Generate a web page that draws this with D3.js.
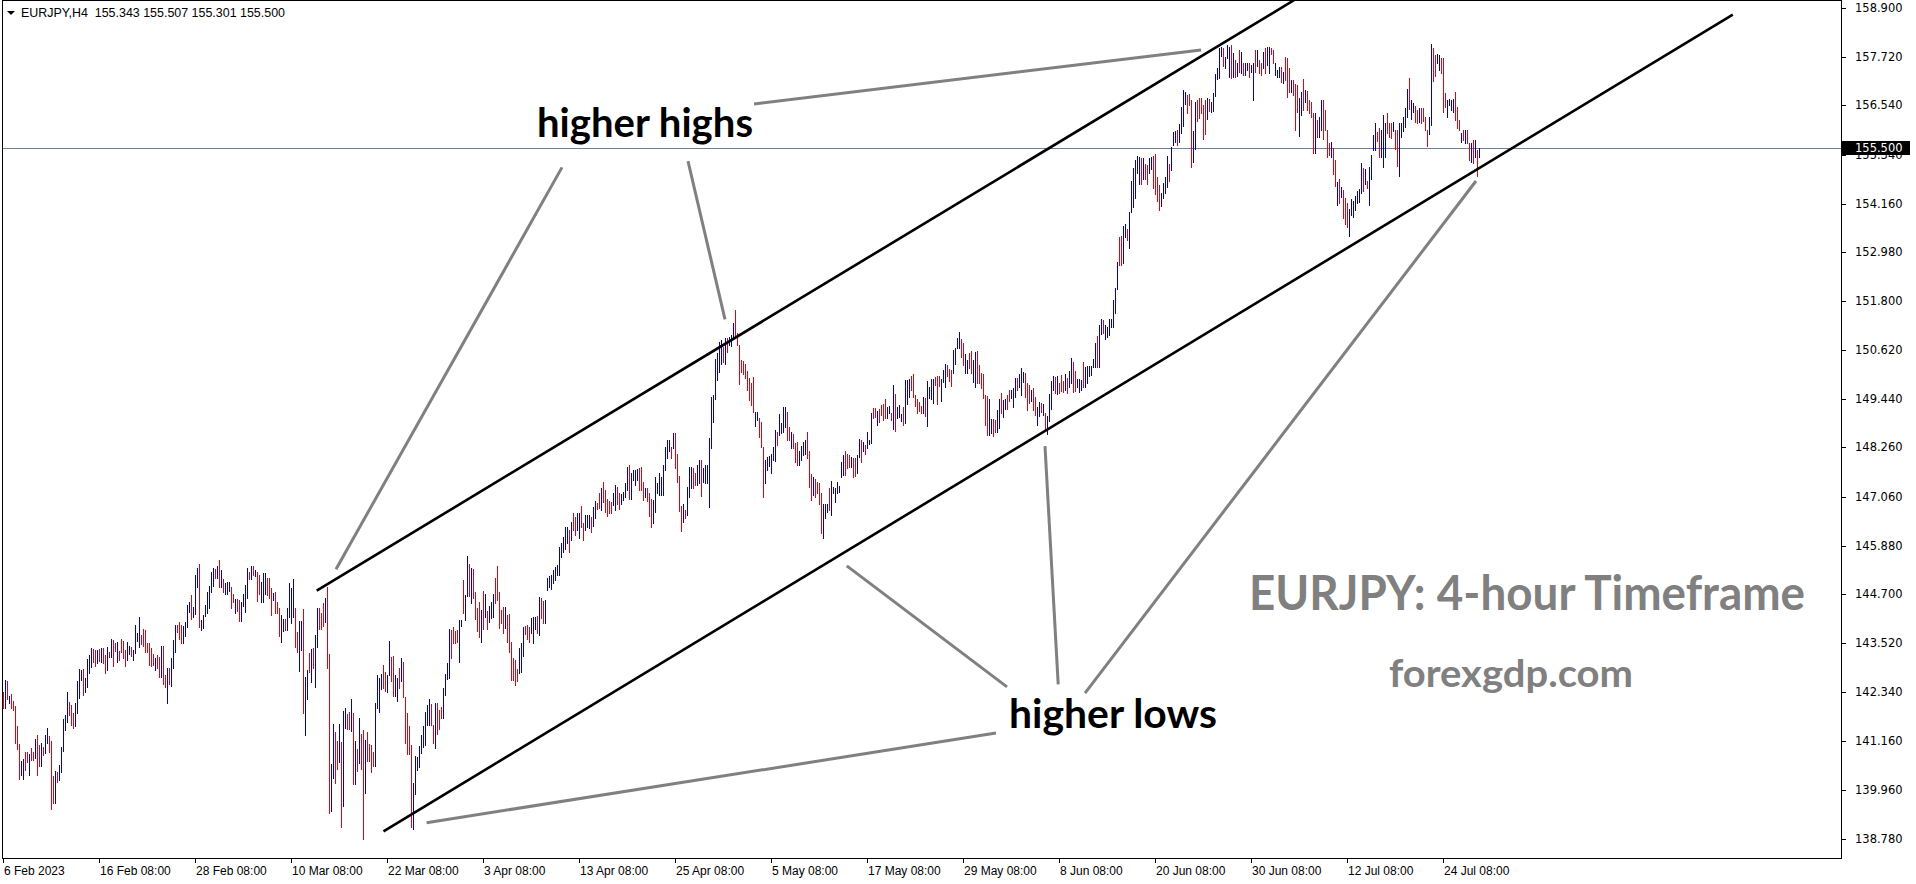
<!DOCTYPE html>
<html><head><meta charset="utf-8">
<script src="https://cdn.jsdelivr.net/npm/d3@7"></script>
<style>
html,body{margin:0;padding:0;background:#fff;overflow:hidden}
svg{display:block}
</style></head>
<body>
<svg id="chart" width="1916" height="884"></svg>
<script>
// ---------- DATA (EURJPY H4, one entry per bar) ----------
const barHigh = [
142.34,142.63,142.59,142.24,142.29,142.12,142.00,141.50,141.08,140.67,
140.71,140.89,140.89,140.83,140.97,140.87,141.20,141.29,141.04,141.09,
141.01,141.29,141.47,141.28,141.16,140.31,140.41,140.39,140.57,141.01,
141.68,141.79,142.34,142.10,142.02,141.82,142.06,142.59,142.89,142.88,
142.89,142.67,143.13,143.23,143.41,143.37,143.35,143.35,143.37,143.39,
143.41,143.23,143.43,143.31,143.62,143.59,143.51,143.54,143.34,143.62,
143.58,143.35,143.55,143.45,143.43,143.35,143.96,143.77,144.14,143.72,
143.86,143.83,143.53,143.51,143.39,143.26,143.15,143.23,143.19,143.46,
143.45,142.75,142.91,142.91,143.17,143.59,143.96,143.96,144.04,143.96,
143.93,144.04,144.43,144.52,144.68,144.40,145.18,145.35,145.43,144.08,
144.20,144.44,144.76,144.91,145.25,145.33,145.31,145.39,145.53,145.29,
145.07,144.97,145.01,145.01,144.89,144.70,144.59,144.59,144.56,144.52,
144.72,144.93,145.35,145.25,145.39,145.39,145.29,145.23,145.17,145.01,
145.21,145.21,145.09,145.09,144.85,144.74,144.76,144.52,144.38,144.20,
144.10,144.10,144.36,144.97,144.85,145.07,144.36,143.80,144.05,144.06,
144.35,142.71,142.87,143.27,143.38,143.39,143.72,144.36,144.36,144.26,
144.48,144.62,144.89,143.26,140.59,141.55,141.37,141.15,141.55,141.13,
141.87,141.94,141.80,141.86,142.17,141.83,141.15,140.95,141.71,141.33,
141.41,141.17,141.37,141.07,141.05,140.87,142.06,142.75,142.67,142.76,
142.99,142.83,142.75,143.57,143.19,143.21,142.75,142.67,142.91,143.17,
143.07,142.22,141.82,141.50,141.05,140.12,140.79,140.77,141.03,141.30,
141.50,141.86,142.02,142.16,142.04,141.54,142.08,142.06,141.90,141.98,
142.42,142.77,143.03,143.86,143.84,143.92,143.82,143.84,144.08,144.08,
145.05,144.68,145.63,145.43,145.33,145.31,144.76,144.36,144.52,144.32,
144.78,144.70,144.30,144.42,144.52,144.72,145.09,145.39,144.75,144.32,
144.39,144.39,144.20,144.22,143.54,143.15,143.11,142.89,143.41,143.51,
143.90,143.94,143.96,143.92,144.12,144.14,144.16,144.18,144.64,144.62,
144.54,144.56,145.09,145.14,145.17,145.29,145.37,145.41,145.85,145.94,
146.10,146.34,146.34,146.26,146.46,146.66,146.58,146.66,146.66,146.84,
146.42,146.62,146.62,146.62,146.58,146.81,146.96,146.92,147.15,147.27,
147.41,147.23,147.02,146.96,146.94,147.15,147.35,147.31,147.15,147.12,
147.19,147.39,147.79,147.83,147.63,147.71,147.71,147.73,147.75,147.79,
147.43,147.27,147.27,147.15,147.00,146.98,147.53,147.40,147.63,147.55,
147.83,148.28,148.44,148.45,148.28,148.60,148.60,148.10,147.57,146.84,
146.90,146.74,147.31,147.79,147.79,147.75,147.63,147.83,147.95,147.95,
147.75,147.83,147.83,148.48,149.49,149.53,150.39,150.54,150.82,150.86,
150.70,150.90,150.92,150.94,150.98,151.26,151.59,151.02,150.74,150.38,
150.35,150.29,150.12,149.95,149.81,149.97,149.12,149.12,148.96,148.88,
148.28,147.95,148.03,148.05,148.11,148.28,148.68,148.64,149.07,148.86,
149.23,149.23,149.11,148.76,148.64,148.58,148.36,148.40,148.18,148.30,
148.40,148.44,148.62,148.18,147.61,147.55,147.49,147.41,147.39,147.15,
146.90,146.89,146.90,147.27,147.44,147.29,147.27,147.43,147.33,147.91,
148.07,148.16,148.10,148.07,148.03,148.01,147.99,148.07,148.46,148.45,
148.40,148.32,148.64,148.44,149.08,149.22,149.22,149.14,149.18,149.29,
149.30,149.43,149.23,149.26,149.10,149.77,149.55,149.24,149.29,149.06,
149.24,149.89,149.89,149.91,149.99,150.04,149.53,149.42,149.37,149.26,
149.49,149.45,149.87,149.73,149.91,149.91,149.97,149.99,149.99,149.91,
150.13,150.28,150.25,150.15,150.13,150.62,150.66,150.90,151.05,150.88,
150.78,150.52,150.38,150.54,150.60,150.38,150.58,150.59,150.25,150.05,
150.04,149.53,149.50,149.43,148.94,148.94,148.92,149.16,149.43,149.57,
149.41,149.43,149.53,149.65,149.65,149.69,149.93,149.93,150.04,150.17,
150.09,150.05,149.81,149.77,149.65,149.69,149.49,149.24,149.37,149.33,
149.30,149.10,149.02,149.55,149.87,149.99,149.97,149.99,149.81,150.01,
149.87,150.04,149.93,150.12,150.42,150.33,150.12,149.91,149.91,149.89,
150.33,150.21,150.23,150.24,150.24,150.39,150.78,150.96,151.22,151.36,
151.34,151.22,151.17,151.38,151.38,151.83,152.13,152.74,153.36,153.38,
153.62,153.66,153.55,153.97,154.71,155.02,155.22,155.32,155.30,155.26,
155.26,155.12,155.10,155.26,155.30,155.32,155.36,154.81,154.61,154.41,
154.65,154.80,155.32,155.12,155.53,155.90,155.93,155.95,156.08,156.51,
156.91,156.86,156.79,156.82,156.66,155.92,156.63,156.66,156.71,156.71,
156.55,156.67,156.71,156.70,156.63,156.83,157.29,157.45,157.92,157.96,
157.92,157.72,158.00,157.95,158.00,157.80,157.64,157.56,157.88,157.84,
157.56,157.58,157.56,157.56,157.52,157.56,157.88,157.88,157.64,157.56,
157.84,157.92,157.96,157.95,157.92,157.88,157.58,157.41,157.48,157.48,
157.36,157.72,157.68,157.44,157.16,157.16,157.06,157.04,156.71,156.87,
157.17,156.91,156.90,156.67,156.63,156.35,156.35,156.19,156.25,156.67,
156.66,156.43,155.95,155.62,155.66,155.50,155.22,154.69,154.77,154.56,
154.49,154.29,154.17,154.03,154.27,154.23,154.35,154.47,154.52,155.14,
155.02,154.99,154.72,155.06,155.34,155.82,156.11,155.90,155.99,155.95,
156.31,156.11,156.35,156.11,156.11,156.15,155.95,155.95,156.11,156.11,
156.25,156.47,156.93,157.20,156.67,156.61,156.53,156.43,156.49,156.49,
156.49,156.25,155.95,156.25,158.04,157.92,157.76,157.79,157.76,157.68,
157.68,156.85,156.67,156.69,156.67,156.69,156.87,156.51,156.19,155.88,
155.95,155.95,155.95,155.62,155.64,155.70,155.70,155.46,155.51
];
const barLow = [
141.94,141.94,142.16,142.06,141.94,141.90,141.11,140.95,140.22,140.32,
140.22,140.45,140.65,140.32,140.69,140.69,140.73,140.32,140.55,140.55,
140.81,140.85,141.09,140.89,139.49,139.64,139.65,140.16,140.20,140.39,
140.91,141.41,141.62,141.78,141.54,141.46,141.50,141.83,142.20,142.62,
142.26,142.34,142.46,142.80,142.93,143.05,142.97,143.03,143.09,143.07,
143.03,142.79,142.87,143.19,143.19,142.96,143.33,143.07,143.11,143.31,
143.15,142.96,143.11,143.26,143.21,143.11,143.27,143.57,143.43,143.50,
143.45,143.31,143.31,142.99,142.96,142.99,142.88,142.91,142.71,142.71,
142.53,142.46,142.08,142.53,142.48,142.92,143.30,143.80,143.62,143.51,
143.51,143.70,143.90,144.28,144.10,144.14,144.22,144.89,143.92,143.84,
143.88,144.18,144.24,144.36,144.76,144.91,145.09,145.09,144.89,144.87,
144.76,144.72,144.70,144.79,144.38,144.51,144.26,144.30,144.06,144.06,
144.42,144.28,144.60,145.07,145.07,145.17,145.15,144.54,144.71,144.51,
144.51,144.72,144.68,144.60,144.20,144.56,144.26,144.24,143.70,143.55,
143.82,143.84,143.84,144.16,144.00,144.16,143.43,143.31,142.85,143.35,
141.83,141.29,142.16,142.83,142.57,142.91,142.46,143.43,143.86,143.85,
143.93,144.04,142.92,139.41,139.45,140.26,140.14,140.46,140.65,139.06,
139.58,141.46,141.44,141.43,141.40,140.10,140.10,140.41,140.62,140.47,
138.77,139.88,140.67,140.67,140.39,140.55,140.55,141.94,141.84,142.41,
142.42,142.36,142.33,142.75,142.59,142.25,142.25,142.12,142.42,142.59,
142.22,141.09,140.83,140.83,139.06,139.01,139.86,140.45,140.53,140.85,
141.01,141.05,141.54,141.54,141.54,141.09,140.99,141.32,141.45,141.70,
141.70,142.26,142.65,142.67,143.17,143.53,143.53,143.55,143.07,143.94,
144.26,144.09,144.66,144.66,144.50,144.60,144.10,143.82,143.66,143.55,
143.86,144.14,143.85,144.04,144.12,144.16,144.50,144.56,143.88,144.00,
143.77,143.88,143.54,143.31,142.63,142.63,142.50,142.59,142.79,142.81,
143.21,143.73,143.62,143.55,143.76,143.51,143.86,143.76,143.72,144.12,
144.01,144.01,144.80,144.89,144.82,144.97,145.05,145.17,145.17,145.61,
145.73,145.81,145.94,145.73,146.02,146.26,146.14,146.26,146.06,146.34,
146.02,146.26,146.34,146.30,146.22,146.35,146.54,146.76,146.78,146.74,
146.94,146.70,146.60,146.66,146.66,146.86,146.74,146.90,146.76,146.90,
146.98,147.06,147.23,147.01,147.01,147.47,147.36,147.47,147.23,147.23,
146.98,147.06,146.96,146.60,146.34,146.42,146.70,147.15,147.11,147.11,
147.11,147.70,147.99,148.16,147.99,148.24,147.75,147.43,146.73,146.24,
146.46,146.54,146.62,147.05,147.27,147.27,147.35,147.36,147.40,147.08,
147.41,147.40,147.40,146.81,148.24,148.88,149.42,149.89,150.09,150.29,
150.33,150.27,150.58,150.74,150.71,150.90,150.94,150.74,149.79,150.09,
150.04,149.93,149.65,149.41,149.29,149.12,148.78,148.92,148.52,148.28,
147.06,147.40,147.71,147.81,147.63,147.95,147.93,148.32,148.56,148.60,
148.64,148.76,148.44,148.44,148.24,148.24,147.90,147.83,147.83,147.95,
148.07,148.10,147.99,147.29,146.98,147.11,147.06,147.15,146.90,146.19,
146.07,146.56,146.69,146.74,146.62,147.15,146.93,147.15,147.19,147.55,
147.59,147.59,147.75,147.79,147.78,147.55,147.57,147.63,148.03,147.91,
148.17,148.11,148.24,148.34,148.36,148.96,149.00,148.80,148.88,149.04,
148.92,148.96,148.96,149.08,148.92,148.70,148.66,148.96,149.00,148.91,
148.80,148.84,149.31,149.49,149.65,149.49,149.26,149.10,149.14,149.08,
149.10,149.03,148.78,149.45,149.42,149.33,149.77,149.31,149.75,149.39,
149.85,149.73,149.99,149.87,149.75,150.05,150.27,150.66,150.66,150.46,
150.25,150.05,150.05,150.17,150.07,149.85,149.71,149.83,149.83,149.69,
149.45,148.80,148.56,148.56,148.60,148.53,148.64,148.64,148.72,149.08,
149.00,149.20,149.20,149.39,149.45,149.23,149.47,149.65,149.73,149.53,
149.85,149.49,149.16,149.33,149.39,149.16,149.04,148.80,149.02,149.11,
149.04,148.70,148.58,148.91,149.20,149.66,149.57,149.54,149.57,149.63,
149.61,149.65,149.57,149.71,149.81,149.61,149.63,149.71,149.61,149.66,
149.73,149.73,149.83,149.99,150.01,150.21,150.21,150.21,150.21,151.00,
151.02,150.88,150.94,150.98,151.18,151.18,151.52,152.09,152.68,152.68,
152.72,153.36,153.27,153.08,153.97,154.09,154.31,154.91,154.63,154.63,
154.77,154.76,154.64,154.90,154.99,154.55,154.39,154.23,154.02,154.10,
154.29,154.43,154.57,154.72,154.98,155.58,155.66,155.58,155.66,155.88,
156.04,156.58,156.35,156.55,155.06,155.18,155.48,156.17,156.23,156.35,
155.72,155.86,156.20,156.41,156.39,156.41,156.77,157.17,157.20,157.74,
157.50,157.44,157.68,157.24,157.21,157.24,157.24,157.26,157.36,157.32,
157.28,157.28,157.40,157.24,157.36,156.66,157.36,157.50,157.32,157.28,
157.44,157.33,157.52,157.33,157.78,157.56,157.28,157.24,157.24,157.12,
157.08,157.16,156.75,156.87,156.87,156.79,155.95,156.37,155.80,156.31,
156.43,156.63,156.43,156.35,156.25,155.38,155.38,155.78,155.78,155.95,
155.72,155.95,155.30,155.34,155.30,154.88,154.59,154.13,154.17,154.33,
153.81,153.67,153.60,153.39,153.89,153.85,154.01,154.17,154.19,154.41,
154.48,154.64,154.53,154.13,154.75,155.46,155.45,155.69,155.30,155.30,
155.06,155.30,155.88,155.77,155.74,155.92,155.48,155.07,154.83,155.78,
155.93,156.03,156.25,156.45,156.20,156.39,156.15,156.12,156.15,156.11,
156.17,155.95,155.56,155.85,156.07,157.14,157.25,157.56,157.40,157.32,
156.39,156.51,156.25,156.55,156.43,156.39,156.19,155.99,155.95,155.66,
155.70,155.62,155.62,155.22,155.18,155.14,155.30,154.84,155.30
];
// b = bullish (close >= open), r = bearish
const barDir = (
"rbrbrrrrrb brrbrrbrrb rbbrrrbrbb bbbrrrbbbb rbbbbrrbrb rrbrbrrbrr rrbbrbbbbr rrrrrrbrrb "+
"rrbrbbbrrr bbbbrbbbrb bbbbbbrbrb rbbbrrbrrb bbbrbrbrrb bbrrrbrrrb brbbbbrrbb rbbrbrbbrr "+
"rbrrbbrrbr bbrrbrbrbr rbrrrrbbbb rrbbrrbbrb rrrrrbbbbb bbbbrrbrrr bbbbrrrrbb rbbrbrrrrb "+
"rbrbbbrrrr rbrrrrrrbb brrrbbbrbr rbbbbbbbbb bbbrbrrbbr rbbbrbbrrb rrrrrbbrrb bbbrbbbbrr "+
"rbrrrbbbbb bbbbrbrrrr brbbbrrbbr bbbbbbbbbb rbrbbbrrrr rrrrrrbbrr rbbbbbbrbb bbrrbrrrbb "+
"bbrrrbrrrr bbbrbbbbbb brrrbrrbbr brbbbrrbrr rrbbrbrbbb rbbbrrrrrr brbbbbrrrb bbrrrbbbbr "+
"rbbrrbbrrr rrrbbrrbbr bbrrbbbrbb brrrbrrbbr brbbbbrbrr rbrbbrrbbb rbbbbbbrbb rbbbbbbbrr "+
"bbrbbbbbbr brrbbrrrrb bbbrbbbrbb bbrrrbbrrr rrbrbbbbbb rbbbrbrbrb rbbrbbrbrr brbbrrbbbr "+
"brrrbrrrbb rbrrrrbrbb rrrrbrrbrb rrrbbbbbbb rbrbbbbrrb bbrrrbrrbb bbbrbbrrbr rrrbbrrbbr "+
"rrbbbbrrrb rbrrbrbrb").replace(/ /g,"").split("");

const priceTicks = [158.900,157.720,156.540,155.340,154.160,152.980,151.800,150.620,149.440,
  148.260,147.060,145.880,144.700,143.520,142.340,141.160,139.960,138.780];
const timeLabels = ["6 Feb 2023","16 Feb 08:00","28 Feb 08:00","10 Mar 08:00","22 Mar 08:00",
  "3 Apr 08:00","13 Apr 08:00","25 Apr 08:00","5 May 08:00","17 May 08:00","29 May 08:00",
  "8 Jun 08:00","20 Jun 08:00","30 Jun 08:00","12 Jul 08:00","24 Jul 08:00"];
const timeLabelBars = timeLabels.map((d,k)=>k*48);
const headerText = "EURJPY,H4  155.343 155.507 155.301 155.500";
const bidPrice = 155.500;

// trend lines in (bar index, price)
const channelLines = [
  {i1:156.85, p1:144.79, i2:645.5, p2:159.09},
  {i1:190.25, p1:138.96, i2:864.9, p2:158.74}
];
const pointerLines = [
  {i1:375.5, p1:156.575, i2:599,   p2:157.883},
  {i1:279.5, p1:155.04,  i2:166.5, p2:145.31},
  {i1:342.5, p1:155.19,  i2:361,   p2:151.36},
  {i1:502,   p1:142.46,  i2:421.9, p2:145.39},
  {i1:527.6, p1:142.52,  i2:521,   p2:148.29},
  {i1:541,   p1:142.31,  i2:736.5, p2:154.71},
  {i1:496.5, p1:141.34,  i2:211.8, p2:139.17}
];
const annotations = [
  {text:"higher highs", i:321, p:155.78, size:40, color:"#000", len:216},
  {text:"higher lows", i:555, p:141.46, size:40, color:"#000", len:208},
  {text:"EURJPY: 4-hour Timeframe", i:762, p:144.32, size:48, color:"#808080", len:556},
  {text:"forexgdp.com", i:754, p:142.46, size:38, color:"#808080", len:244}
];

// ---------- CHART ----------
const svg = d3.select("#chart");
const plotL = 2, plotR = 1841, plotT = 0, plotB = 858;
const x = d3.scaleLinear().domain([0, 919]).range([3, 1841]);
const y = d3.scaleLinear().domain([138.78, 158.90]).range([838.8, 8]);

svg.append("rect").attr("width",1916).attr("height",884).attr("fill","#fff");

svg.append("defs").append("clipPath").attr("id","plotclip")
  .append("rect").attr("x",plotL+0.5).attr("y",plotT+0.5)
  .attr("width",plotR-plotL).attr("height",plotB-plotT);

// bid line
svg.append("line")
  .attr("x1",plotL).attr("x2",plotR)
  .attr("y1",Math.round(y(bidPrice))+0.5).attr("y2",Math.round(y(bidPrice))+0.5)
  .attr("stroke","#6f8090").attr("stroke-width",1).attr("shape-rendering","crispEdges");

// bars
const bars = barHigh.map((h,i)=>({i, h, l:barLow[i], d:barDir[i]}));
svg.append("g").attr("shape-rendering","crispEdges")
  .selectAll("rect").data(bars).join("rect")
  .attr("x", d=>Math.round(x(d.i)))
  .attr("width",1)
  .attr("y", d=>Math.round(y(d.h)))
  .attr("height", d=>Math.max(1, Math.round(y(d.l))-Math.round(y(d.h))+1))
  .attr("fill", d=>d.d==="b" ? "#0000CC" : "#E8000B");

// lines
const lg = svg.append("g").attr("clip-path","url(#plotclip)");
lg.selectAll("line.ptr").data(pointerLines).join("line").attr("class","ptr")
  .attr("x1",d=>x(d.i1)).attr("y1",d=>y(d.p1)).attr("x2",d=>x(d.i2)).attr("y2",d=>y(d.p2))
  .attr("stroke","#808080").attr("stroke-width",3);
lg.selectAll("line.ch").data(channelLines).join("line").attr("class","ch")
  .attr("x1",d=>x(d.i1)).attr("y1",d=>y(d.p1)).attr("x2",d=>x(d.i2)).attr("y2",d=>y(d.p2))
  .attr("stroke","#000").attr("stroke-width",2.6);

// annotation texts
svg.append("g").selectAll("text").data(annotations).join("text")
  .attr("x",d=>x(d.i)).attr("y",d=>y(d.p))
  .attr("text-anchor","middle")
  .attr("font-family","Lato, 'Open Sans', sans-serif").attr("font-weight","bold")
  .attr("font-size",d=>d.size).attr("fill",d=>d.color)
  .attr("textLength",d=>d.len).attr("lengthAdjust","spacingAndGlyphs")
  .text(d=>d.text);

// frame
svg.append("rect").attr("x",plotL+0.5).attr("y",plotT+0.5)
  .attr("width",plotR-plotL).attr("height",plotB-plotT)
  .attr("fill","none").attr("stroke","#000").attr("stroke-width",1)
  .attr("shape-rendering","crispEdges");

// price axis
const pa = svg.append("g");
pa.selectAll("line").data(priceTicks).join("line")
  .attr("x1",plotR+0.5).attr("x2",plotR+5)
  .attr("y1",d=>Math.round(y(d))+0.5).attr("y2",d=>Math.round(y(d))+0.5)
  .attr("stroke","#000").attr("shape-rendering","crispEdges");
pa.selectAll("text").data(priceTicks).join("text")
  .attr("x",plotR+14).attr("y",d=>y(d)+4)
  .attr("font-family","'DejaVu Sans', sans-serif").attr("font-size",11.5)
  .attr("fill","#000").text(d=>d.toFixed(3));

// bid label (drawn over the partly hidden grid label, as in the terminal)
const by = Math.round(y(bidPrice));
svg.append("rect").attr("x",plotR+1).attr("y",by-7).attr("width",68).attr("height",14).attr("fill","#000");
svg.append("text").attr("x",plotR+14).attr("y",by+4)
  .attr("font-family","'DejaVu Sans', sans-serif").attr("font-size",11.5)
  .attr("fill","#fff").text(bidPrice.toFixed(3));

// time axis
const ta = svg.append("g");
ta.selectAll("line").data(timeLabelBars).join("line")
  .attr("x1",d=>Math.round(x(d))+0.5).attr("x2",d=>Math.round(x(d))+0.5)
  .attr("y1",plotB+0.5).attr("y2",plotB+5)
  .attr("stroke","#000").attr("shape-rendering","crispEdges");
ta.selectAll("text").data(timeLabels).join("text")
  .attr("x",(d,k)=>Math.round(x(timeLabelBars[k]))+1).attr("y",875)
  .attr("font-family","'Liberation Sans', Arial, sans-serif").attr("font-size",12)
  .attr("fill","#000").text(d=>d);

// header
svg.append("path").attr("d","M7,11 L15,11 L11,15 Z").attr("fill","#000");
svg.append("text").attr("x",21).attr("y",17)
  .attr("font-family","'Liberation Sans', Arial, sans-serif").attr("font-size",12)
  .attr("style","white-space:pre").attr("textLength",264).attr("lengthAdjust","spacingAndGlyphs")
  .attr("fill","#000").text(headerText);
</script>
</body></html>
